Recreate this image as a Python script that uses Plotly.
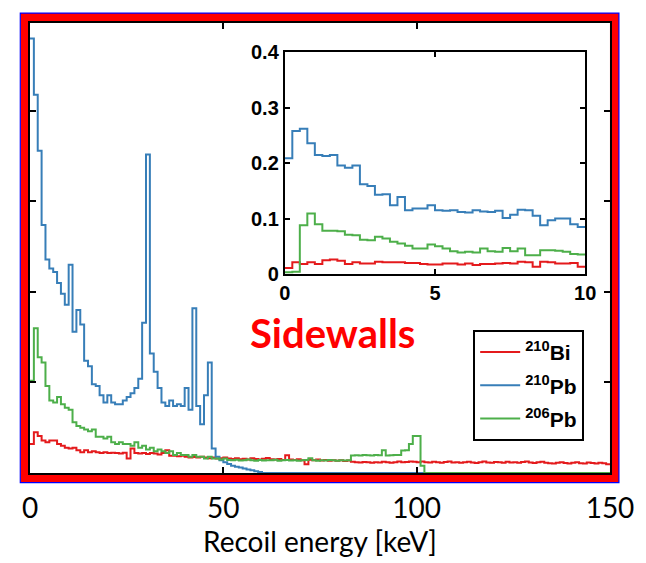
import plotly.graph_objects as go

# ---------------- data ----------------
MAIN_BIN_KEV = 1.0
INSET_BIN_KEV = 0.25

bi210_main = [
    0.016, 0.0225, 0.0205, 0.018, 0.017, 0.018, 0.018, 0.016, 0.015, 0.014,
    0.0135, 0.014, 0.0125, 0.0115, 0.0125, 0.0115, 0.012, 0.0115, 0.011, 0.0115,
    0.011, 0.0112, 0.011, 0.0108, 0.0112, 0.008, 0.0135, 0.011, 0.0108, 0.011,
    0.0105, 0.011, 0.0108, 0.0102, 0.011, 0.0125, 0.0095, 0.0095, 0.0092, 0.0095,
    0.009, 0.0085, 0.0088, 0.0085, 0.009, 0.0085, 0.0082, 0.0085, 0.008, 0.0082,
    0.0085, 0.0080, 0.0078, 0.0082, 0.0076, 0.0079, 0.0074, 0.0081, 0.0077, 0.0075,
    0.0079, 0.0083, 0.0076, 0.0074, 0.0078, 0.0072, 0.0098, 0.0075, 0.0072, 0.0076,
    0.0071, 0.0048, 0.0073, 0.0070, 0.0074, 0.0069, 0.0072, 0.0068, 0.0071, 0.0067,
    0.0070, 0.0066, 0.0069, 0.0062, 0.0060, 0.0058, 0.0061, 0.0059, 0.0057, 0.0060,
    0.0058, 0.0062, 0.0059, 0.0056, 0.0060, 0.0063, 0.0059, 0.0061, 0.0064, 0.0062,
    0.0060, 0.0063, 0.0060, 0.0058, 0.0062, 0.0059, 0.0057, 0.0061, 0.0063, 0.0058,
    0.0060, 0.0056, 0.0059, 0.0062, 0.0058, 0.0055, 0.0060, 0.0064, 0.0058, 0.0057,
    0.0061, 0.0059, 0.0056, 0.0062, 0.0058, 0.0060, 0.0057, 0.0061, 0.0063, 0.0058,
    0.0055, 0.0059, 0.0062, 0.0057, 0.0054, 0.0052, 0.0056, 0.0059, 0.0055, 0.0053,
    0.0057, 0.0060, 0.0054, 0.0052, 0.0058, 0.0055, 0.0053, 0.0056, 0.0054, 0.0049,
]

pb210_main = [
    0.240, 0.209, 0.178, 0.137, 0.118, 0.113, 0.111, 0.105, 0.099, 0.093,
    0.115, 0.078, 0.090, 0.082, 0.062, 0.059, 0.049, 0.048, 0.043, 0.039,
    0.043, 0.039, 0.038, 0.038, 0.040, 0.042, 0.044, 0.047, 0.052, 0.083,
    0.176, 0.066, 0.056, 0.047, 0.039, 0.037, 0.040, 0.037, 0.038, 0.037,
    0.047, 0.035, 0.091, 0.037, 0.027, 0.043, 0.061, 0.0135, 0.009, 0.007,
    0.006, 0.005, 0.004, 0.0035, 0.003, 0.0025, 0.002, 0.0015, 0.001, 0.0005,
    0, 0, 0, 0, 0, 0, 0, 0, 0, 0,
    0, 0, 0, 0, 0, 0, 0, 0, 0, 0,
    0, 0, 0, 0, 0, 0, 0, 0, 0, 0,
    0, 0, 0, 0, 0, 0, 0, 0, 0, 0,
    0, 0, 0, 0, 0, 0, 0, 0, 0, 0,
    0, 0, 0, 0, 0, 0, 0, 0, 0, 0,
    0, 0, 0, 0, 0, 0, 0, 0, 0, 0,
    0, 0, 0, 0, 0, 0, 0, 0, 0, 0,
    0, 0, 0, 0, 0, 0, 0, 0, 0, 0,
]

pb206_main = [
    0.051, 0.080, 0.064, 0.061, 0.048, 0.040, 0.039, 0.042, 0.038, 0.036,
    0.035, 0.028, 0.026, 0.025, 0.024, 0.023, 0.024, 0.020, 0.020, 0.019,
    0.020, 0.017, 0.016, 0.017, 0.016, 0.016, 0.015, 0.017, 0.014, 0.015,
    0.013, 0.014, 0.012, 0.013, 0.012, 0.011, 0.012, 0.010, 0.011, 0.010,
    0.010, 0.009, 0.010, 0.009, 0.009, 0.008, 0.009, 0.008, 0.008, 0.0075,
    0.008, 0.0072, 0.0070, 0.0073, 0.0069, 0.0071, 0.0074, 0.0070, 0.0068, 0.0072,
    0.0069, 0.0071, 0.0070, 0.0073, 0.0068, 0.0070, 0.0072, 0.0069, 0.0071, 0.0067,
    0.0070, 0.0072, 0.0082, 0.0070, 0.0068, 0.0071, 0.0069, 0.0072, 0.0070, 0.0068,
    0.0071, 0.0069, 0.0070, 0.0096, 0.0098, 0.0097, 0.0099, 0.0098, 0.0097, 0.0100,
    0.0098, 0.0125, 0.0097, 0.0098, 0.0100, 0.0099, 0.0124, 0.0126, 0.0160, 0.0205,
    0.0205, 0.0040, 0, 0, 0, 0, 0, 0, 0, 0,
    0, 0, 0, 0, 0, 0, 0, 0, 0, 0,
    0, 0, 0, 0, 0, 0, 0, 0, 0, 0,
    0, 0, 0, 0, 0, 0, 0, 0, 0, 0,
    0, 0, 0, 0, 0, 0, 0, 0, 0, 0,
]

bi210_inset = [
    0.011, 0.021, 0.018, 0.021, 0.018, 0.025, 0.026, 0.024, 0.018, 0.021,
    0.019, 0.019, 0.022, 0.021, 0.021, 0.021, 0.020, 0.020, 0.018, 0.017,
    0.017, 0.019, 0.019, 0.017, 0.019, 0.016, 0.018, 0.018, 0.019, 0.020,
    0.019, 0.022, 0.021, 0.013, 0.022, 0.021, 0.019, 0.019, 0.020, 0.013,
]

pb210_inset = [
    0.209, 0.258, 0.262, 0.236, 0.215, 0.213, 0.215, 0.196, 0.192, 0.196,
    0.162, 0.159, 0.143, 0.144, 0.124, 0.139, 0.115, 0.118, 0.118, 0.124,
    0.115, 0.114, 0.115, 0.112, 0.111, 0.115, 0.113, 0.112, 0.114, 0.101,
    0.107, 0.116, 0.115, 0.105, 0.088, 0.097, 0.100, 0.100, 0.090, 0.085,
]

pb206_inset = [
    0.003, 0.004, 0.088, 0.109, 0.090, 0.078, 0.078, 0.077, 0.071, 0.070,
    0.062, 0.061, 0.067, 0.064, 0.058, 0.055, 0.051, 0.046, 0.046, 0.053,
    0.050, 0.046, 0.041, 0.039, 0.040, 0.039, 0.046, 0.041, 0.040, 0.047,
    0.041, 0.046, 0.034, 0.034, 0.043, 0.043, 0.042, 0.040, 0.036, 0.035,
]

series_names = ["<sup>210</sup>Bi", "<sup>210</sup>Pb", "<sup>206</sup>Pb"]
series_colors = ["#e41a1c", "#377eb8", "#4daf4a"]

main_x_ticks = [0, 50, 100, 150]
main_y_ticks = [0.05, 0.10, 0.15, 0.20]
inset_x_ticks = [0, 5, 10]
inset_y_ticks = [0, 0.1, 0.2, 0.3, 0.4]

x_title = "Recoil energy [keV]"
panel_label = "Sidewalls"


def steps(values, width):
    v = list(values)
    x = [i * width for i in range(len(v) + 1)]
    return x, v + [v[-1]]


fig = go.Figure()

main_sets = [bi210_main, pb210_main, pb206_main]
inset_sets = [bi210_inset, pb210_inset, pb206_inset]

for name, color, vals in zip(series_names, series_colors, main_sets):
    x, y = steps(vals, MAIN_BIN_KEV)
    fig.add_trace(go.Scatter(x=x, y=y, mode="lines", line_shape="hv",
                             line=dict(color=color, width=2), name=name,
                             legendgroup=name, xaxis="x", yaxis="y"))

for name, color, vals in zip(series_names, series_colors, inset_sets):
    x, y = steps(vals, INSET_BIN_KEV)
    fig.add_trace(go.Scatter(x=x, y=y, mode="lines", line_shape="hv",
                             line=dict(color=color, width=2), name=name,
                             showlegend=False, xaxis="x2", yaxis="y2"))

# pixel helpers for the decorative frame (plot area: x 30..615, y 14..473)
L, R, T, B = 30, 615, 14, 473


def px(xp):
    return (xp - L) / (R - L)


def py(yp):
    return (B - yp) / (B - T)


axis_common = dict(showline=True, linecolor="black", linewidth=2, mirror="ticks",
                   ticks="inside", tickcolor="black", tickwidth=2,
                   showgrid=False, zeroline=False)

fig.update_layout(
    width=646, height=563,
    margin=dict(l=L, r=646 - R, t=T, b=563 - B),
    paper_bgcolor="white", plot_bgcolor="white",
    showlegend=True,
    xaxis=dict(domain=[0, 1], range=[0, 150], tickvals=main_x_ticks, ticklen=6,
               tickfont=dict(family="Lato", size=28, color="black"),
               ticklabelstandoff=9,
               title=dict(text=x_title, font=dict(family="Lato", size=28, color="black"),
                          standoff=4),
               **axis_common),
    yaxis=dict(domain=[0, 1], range=[0, 0.2486], tickvals=main_y_ticks, ticklen=6,
               showticklabels=False, **axis_common),
    xaxis2=dict(domain=[px(287), px(590)], anchor="y2", range=[0, 10],
                tickvals=inset_x_ticks, ticklen=5,
                tickfont=dict(family="Liberation Sans", size=20, color="black", weight="bold"),
                ticklabelstandoff=0,
                **axis_common),
    yaxis2=dict(domain=[py(270), py(44)], anchor="x2", range=[0, 0.4],
                tickvals=inset_y_ticks, ticklen=5,
                tickfont=dict(family="Liberation Sans", size=20, color="black", weight="bold"),
                **axis_common),
    legend=dict(x=px(477), y=py(327), xanchor="left", yanchor="top",
                bgcolor="white", bordercolor="black", borderwidth=2,
                font=dict(family="Liberation Sans", size=21, color="black", weight="bold"),
                tracegroupgap=3, itemwidth=40),
    annotations=[dict(text="<b>" + panel_label + "</b>", x=px(335), y=py(357),
                      xref="paper", yref="paper", showarrow=False,
                      font=dict(family="Lato", size=40, color="#ff0000"))],
    shapes=[
        dict(type="rect", xref="paper", yref="paper", layer="below",
             x0=px(25), x1=px(619.5), y0=py(478), y1=py(8.5),
             line=dict(color="#ff0000", width=9)),
        dict(type="rect", xref="paper", yref="paper", layer="below",
             x0=px(20.2), x1=px(624), y0=py(482.8), y1=py(4),
             line=dict(color="#0000ff", width=1.2)),
    ],
)

fig.write_html("out.html")
